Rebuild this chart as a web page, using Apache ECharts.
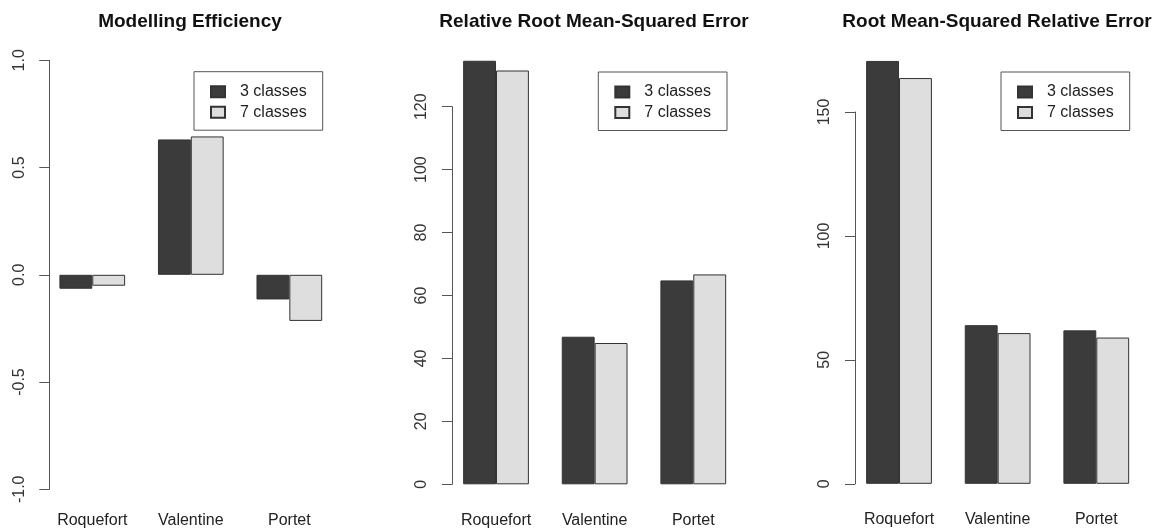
<!DOCTYPE html>
<html>
<head>
<meta charset="utf-8">
<script src="https://cdn.jsdelivr.net/npm/echarts@6/dist/echarts.min.js"></script>
<style>
html,body{margin:0;padding:0;background:#fff;}
#chart{width:1161px;height:529px;}
</style>
</head>
<body>
<div id="chart"></div>
<script>
// ---- data ----
var categories = ['Roquefort', 'Valentine', 'Portet'];
var seriesNames = ['3 classes', '7 classes'];
var titles = ['Modelling Efficiency', 'Relative Root Mean-Squared Error', 'Root Mean-Squared Relative Error'];
var me3 = [-0.065, 0.631, -0.115];
var me7 = [-0.051, 0.645, -0.215];
var rrmse3 = [134.6, 46.9, 64.8];
var rrmse7 = [131.5, 44.9, 66.7];
var rmsre3 = [170.6, 64.0, 61.9];
var rmsre7 = [163.7, 60.8, 59.0];
var yTicks1 = {min: -1, max: 1, interval: 0.5};
var yTicks2 = {min: 0, max: 120, interval: 20};
var yTicks3 = {min: 0, max: 150, interval: 50};

// ---- layout (pixels) ----
var FONT = 'Liberation Sans, Arial, Helvetica, sans-serif';
var DARK = '#3b3b3b', LIGHT = '#dedede', EDGE = '#333';
var panels = [
  {ticks: yTicks1, s3: me3, s7: me7, axisX: 49.3, yTopPx: 60.3, yBotPx: 489.3, barMax: 1, barMin: -1,
   gridLeft: 43, gridWidth: 295.6, labelMargin: 23.5, titleX: 190, legendLeft: 194, legendTop: 71.7},
  {ticks: yTicks2, s3: rrmse3, s7: rrmse7, axisX: 452, yTopPx: 106.7, yBotPx: 484.3, barMax: 140, barMin: 0,
   gridLeft: 446.7, gridWidth: 295.9, labelMargin: 28, titleX: 594, legendLeft: 598.3, legendTop: 72},
  {ticks: yTicks3, s3: rmsre3, s7: rmsre7, axisX: 855, yTopPx: 112, yBotPx: 483.8, barMax: 180, barMin: 0,
   gridLeft: 849.7, gridWidth: 295.9, labelMargin: 28, titleX: 997, legendLeft: 1001, legendTop: 72}
];

var option = {
  animation: false,
  backgroundColor: '#fff',
  title: [], grid: [], xAxis: [], yAxis: [], legend: [], series: []
};

panels.forEach(function (p, i) {
  var t = p.ticks;
  var scale = (p.yBotPx - p.yTopPx) / (t.max - t.min); // px per unit
  var barTop = p.yBotPx - (p.barMax - t.min) * scale;
  var barBot = p.yBotPx - (p.barMin - t.min) * scale;
  option.title.push({
    text: titles[i], left: p.titleX, top: 12, textAlign: 'center', padding: 0,
    textStyle: {fontFamily: FONT, fontWeight: 'bold', fontSize: 19, color: '#111'}
  });
  // grid 2i: bars; grid 2i+1: y axis
  option.grid.push({left: p.gridLeft, width: p.gridWidth, top: barTop, height: barBot - barTop,
    containLabel: false, outerBoundsMode: 'none'});
  option.grid.push({left: p.axisX, width: 1, top: p.yTopPx, height: p.yBotPx - p.yTopPx,
    containLabel: false, outerBoundsMode: 'none'});
  option.xAxis.push({
    type: 'category', gridIndex: 2 * i, data: categories,
    axisLine: {show: false}, axisTick: {show: false}, splitLine: {show: false},
    axisLabel: {margin: p.labelMargin, fontFamily: FONT, fontSize: 16, color: '#222', interval: 0}
  });
  option.xAxis.push({type: 'value', gridIndex: 2 * i + 1, show: false});
  option.yAxis.push({
    type: 'value', gridIndex: 2 * i, min: p.barMin, max: p.barMax, show: false, splitLine: {show: false}
  });
  option.yAxis.push({
    type: 'value', gridIndex: 2 * i + 1, min: t.min, max: t.max, interval: t.interval,
    axisLine: {show: true, lineStyle: {color: '#555', width: 1}},
    axisTick: {show: true, length: 10, lineStyle: {color: '#555', width: 1}},
    splitLine: {show: false},
    axisLabel: {
      rotate: 90, margin: 22, fontFamily: FONT, fontSize: 16, color: '#333', showMinLabel: true, showMaxLabel: true,
      formatter: function (v) { return i === 0 ? v.toFixed(1) : String(v); }
    }
  });
  option.legend.push({
    orient: 'vertical', left: p.legendLeft, top: p.legendTop,
    data: seriesNames, selectedMode: false,
    padding: [12, 16, 10, 16], itemGap: 4.5,
    itemWidth: 14, itemHeight: 11, icon: 'rect',
    borderColor: '#555', borderWidth: 1, borderRadius: 0,
    textStyle: {fontFamily: FONT, fontSize: 16, color: '#222', padding: [0, 0, 0, 10]}
  });
  option.series.push({
    name: seriesNames[0], type: 'bar', xAxisIndex: 2 * i, yAxisIndex: 2 * i, data: p.s3,
    barGap: '0%', barCategoryGap: '33.33%',
    itemStyle: {color: DARK, borderColor: EDGE, borderWidth: 1}
  });
  option.series.push({
    name: seriesNames[1], type: 'bar', xAxisIndex: 2 * i, yAxisIndex: 2 * i, data: p.s7,
    barGap: '0%', barCategoryGap: '33.33%',
    itemStyle: {color: LIGHT, borderColor: EDGE, borderWidth: 1}
  });
});

var chart = echarts.init(document.getElementById('chart'), null, {renderer: 'canvas'});
chart.setOption(option);
</script>
</body>
</html>
